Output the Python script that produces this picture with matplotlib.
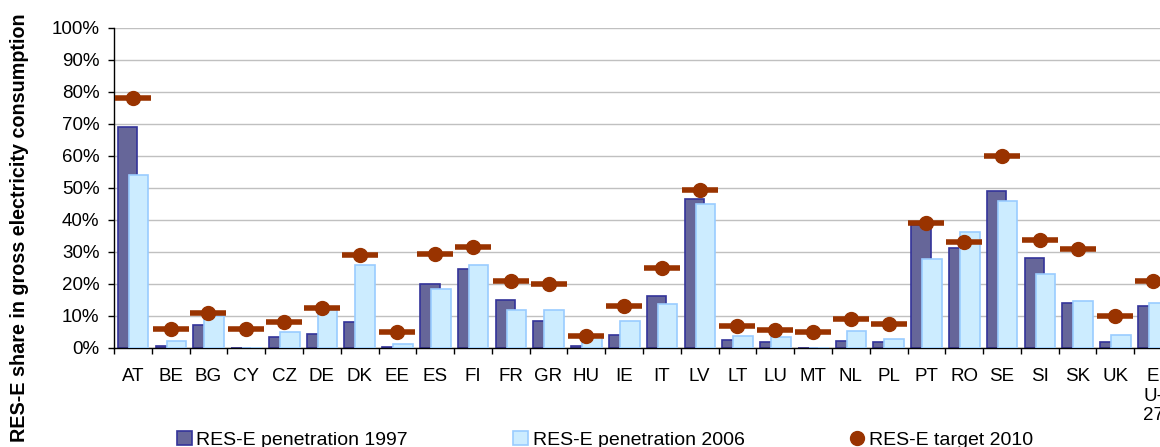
import matplotlib
matplotlib.use('Agg')
import matplotlib.pyplot as plt
from matplotlib.lines import Line2D
from matplotlib.patches import Patch
import numpy as np

countries = ['AT', 'BE', 'BG', 'CY', 'CZ', 'DE', 'DK', 'EE', 'ES', 'FI', 'FR', 'GR', 'HU', 'IE',
             'IT', 'LV', 'LT', 'LU', 'MT', 'NL', 'PL', 'PT', 'RO', 'SE', 'SI', 'SK', 'UK', 'E\nU-\n27']
pen_1997 = [69.0, 0.6, 7.2, 0.0, 3.4, 4.3, 8.1, 0.2, 19.9, 24.7, 15.1, 8.5, 0.5, 4.2,
            16.1, 46.6, 2.6, 1.9, 0.0, 2.1, 1.8, 38.5, 31.3, 49.0, 28.2, 14.2, 1.8, 13.0]
pen_2006 = [54.0, 2.3, 10.0, 0.0, 4.9, 11.8, 25.8, 1.1, 18.5, 26.0, 11.8, 12.0, 3.4, 8.3,
            13.9, 45.0, 3.9, 3.3, 0.0, 5.2, 2.8, 27.7, 36.2, 45.8, 23.0, 14.8, 4.2, 14.1]
target_2010 = [78.1, 6.0, 11.0, 6.0, 8.0, 12.5, 29.0, 5.1, 29.4, 31.5, 21.0, 20.1, 3.6, 13.2,
               25.0, 49.3, 7.0, 5.7, 5.0, 9.0, 7.5, 39.0, 33.0, 60.0, 33.6, 31.0, 10.0, 21.0]

dark_fill, dark_edge = '#666699', '#333399'
light_fill, light_edge = '#CCECFF', '#99CCFF'
target_color = '#993300'

plt.rcParams['font.family'] = ['Liberation Sans', 'DejaVu Sans']

fig = plt.figure(figsize=(11.6, 4.47), dpi=100)
ax = fig.add_axes([114 / 1160, 99 / 447, 1058 / 1160, 320 / 447])

x = np.arange(len(countries))
w = 0.52
ax.bar(x - 0.14, pen_1997, width=w, color=dark_fill, edgecolor=dark_edge, linewidth=1.2, zorder=2)
ax.bar(x + 0.15, pen_2006, width=w, color=light_fill, edgecolor=light_edge, linewidth=1.2, zorder=3)
# target: short horizontal dash with a dot on top
ax.plot(x, target_2010, ls='none', marker='_', ms=26, mew=4, color=target_color, zorder=4)
ax.plot(x, target_2010, ls='none', marker='o', ms=10, color=target_color, zorder=5)

ax.set_xlim(-0.5, len(countries) - 0.5)
ax.set_ylim(0, 100)
ax.set_yticks(np.arange(0, 101, 10))
ax.set_yticklabels([f'{v}%' for v in range(0, 101, 10)], fontsize=13.5)
ax.yaxis.grid(True, color='#C0C0C0', linewidth=1.0, zorder=0)
ax.set_axisbelow(True)

ax.set_xticks(x)
ax.set_xticklabels(countries, fontsize=13.5, linespacing=1.2, va='top')
ax.set_xticks(np.arange(-0.5, len(countries), 1), minor=True)
ax.tick_params(axis='x', which='major', length=0, pad=14.5)
ax.tick_params(axis='x', which='minor', length=4.5, width=1, color='black')
ax.tick_params(axis='y', length=4.5, width=1, pad=6)

for s in ['top', 'right']:
    ax.spines[s].set_visible(False)
ax.spines['left'].set_linewidth(1.0)
ax.spines['bottom'].set_linewidth(1.0)

fig.text(20 / 1160, (447 - 228) / 447, 'RES-E share in gross electricity consumption',
         rotation=90, ha='center', va='center', fontsize=14.2, fontweight='bold')

handles = [Patch(facecolor=dark_fill, edgecolor=dark_edge, linewidth=1.2),
           Patch(facecolor=light_fill, edgecolor=light_edge, linewidth=1.2),
           Line2D([], [], ls='none', marker='o', ms=10, color=target_color)]
labels = ['RES-E penetration 1997', 'RES-E penetration 2006', 'RES-E target 2010']
fig.legend(handles, labels, loc='center', bbox_to_anchor=(605 / 1160, 7 / 447), ncol=3,
           frameon=False, fontsize=14, columnspacing=5.4, handletextpad=0.25,
           handlelength=0.75, handleheight=0.75, borderpad=0)

fig.savefig('out.png', dpi=100)
